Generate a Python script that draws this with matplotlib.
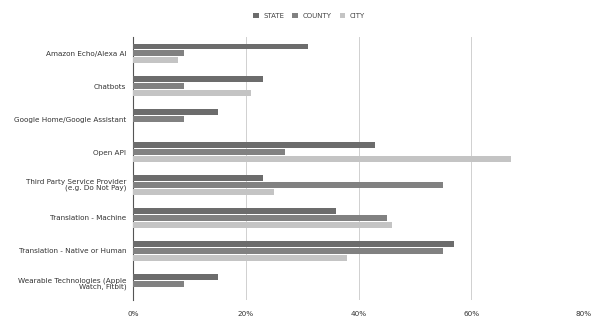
import matplotlib.pyplot as plt
import numpy as np

categories = ["Amazon Echo/Alexa AI", "Chatbots", "Google Home/Google Assistant", "Open API",
              "Third Party Service Provider\n(e.g. Do Not Pay)", "Translation - Machine",
              "Translation - Native or Human", "Wearable Technologies (Apple\nWatch, Fitbit)"]
state = [31, 23, 15, 43, 23, 36, 57, 15]
county = [9, 9, 9, 27, 55, 45, 55, 9]
city = [8, 21, 0, 67, 25, 46, 38, 0]
series_names = ["STATE", "COUNTY", "CITY"]
colors = ["#6c6c6c", "#818181", "#c4c4c4"]

fig = plt.figure(figsize=(6, 3.24), dpi=100)
ax = fig.add_axes([0.222, 0.074, 0.751, 0.812])

y = np.arange(len(categories))
h = 0.18
off = 0.21
for i, (vals, name, c) in enumerate(zip([state, county, city], series_names, colors)):
    ax.barh(y + (i - 1) * off, vals, height=h, color=c, label=name, zorder=3)

ax.set_ylim(len(categories) - 0.5, -0.5)
ax.set_xlim(0, 80)
ax.set_xticks([0, 20, 40, 60, 80])
ax.set_xticklabels(["0%", "20%", "40%", "60%", "80%"])
ax.set_yticks(y)
ax.set_yticklabels(categories, linespacing=0.9)
ax.tick_params(axis="both", length=0, labelsize=5.2, colors="#333333")
ax.tick_params(axis="x", pad=8)
ax.tick_params(axis="y", pad=5)
ax.grid(axis="x", color="#d0d0d0", linewidth=0.7, zorder=0)
for s in ["top", "right", "bottom"]:
    ax.spines[s].set_visible(False)
ax.spines["left"].set_color("#555555")
ax.spines["left"].set_linewidth(0.8)

ax.legend(loc="upper center", bbox_to_anchor=(0.39, 1.115), ncol=3, frameon=False,
          fontsize=5, handlelength=0.8, handleheight=0.8, columnspacing=1.2,
          handletextpad=0.6, labelcolor="#444444")

fig.savefig("out.png")
